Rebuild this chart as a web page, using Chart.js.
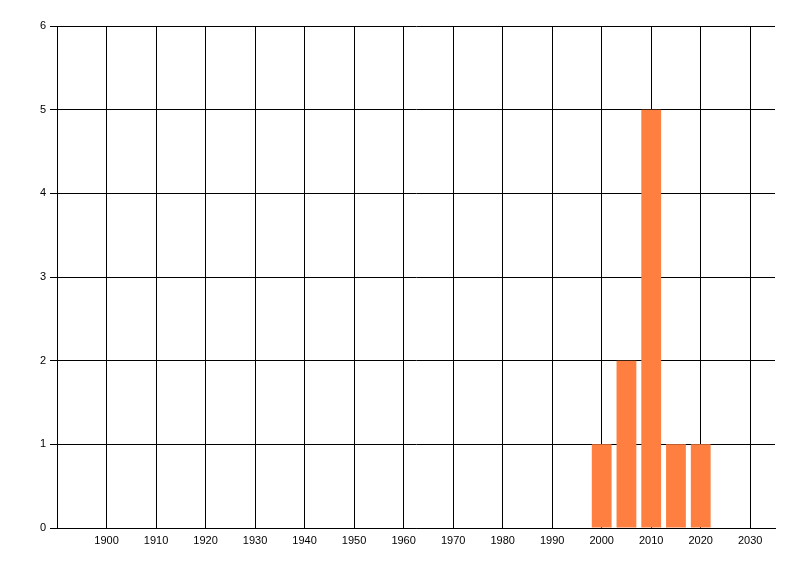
<!DOCTYPE html>
<html>
<head>
<meta charset="utf-8">
<script src="https://cdn.jsdelivr.net/npm/chart.js@4"></script>
<style>
  html, body { margin: 0; padding: 0; background: #fff; }
  #wrap { width: 800px; height: 576px; }
</style>
</head>
<body>
<div id="wrap"><canvas id="chart" width="800" height="576"></canvas></div>
<script>
// values
const years = [2000, 2005, 2010, 2015, 2020];
const counts = [1, 2, 5, 1, 1];
const xTickYears = [1900, 1910, 1920, 1930, 1940, 1950, 1960, 1970, 1980, 1990, 2000, 2010, 2020, 2030];
const yTicks = [0, 1, 2, 3, 4, 5, 6];

const font = { family: 'Liberation Sans', size: 11 };

const points = years.map((y, i) => ({ x: y, y: counts[i] }));

new Chart(document.getElementById('chart'), {
  type: 'bar',
  data: {
    datasets: [{
      data: points,
      backgroundColor: '#ff7f40',
      borderWidth: 0,
      barPercentage: 1,
      categoryPercentage: 0.8
    }]
  },
  options: {
    responsive: false,
    animation: false,
    layout: { padding: { top: 26, right: 25, left: 0, bottom: 0 } },
    plugins: { legend: { display: false }, tooltip: { enabled: false } },
    scales: {
      x: {
        type: 'linear',
        min: 1890,
        max: 2035,
        offset: false,
        afterBuildTicks: s => { s.ticks = xTickYears.map(v => ({ value: v })); },
        afterFit: s => { s.height = 48; },
        ticks: { color: '#000', font: font, padding: 6, maxRotation: 0, autoSkip: false,
                 callback: v => String(v) },
        grid: { color: '#000', lineWidth: 1, drawTicks: false, offset: false },
        border: { display: true, color: '#000', width: 1 }
      },
      y: {
        min: 0,
        max: 6,
        afterBuildTicks: s => { s.ticks = yTicks.map(v => ({ value: v })); },
        afterFit: s => { s.width = 57; },
        ticks: { color: '#000', font: font, padding: 4, callback: v => String(v) },
        grid: { color: '#000', lineWidth: 1, drawTicks: true, tickLength: 7 },
        border: { display: true, color: '#000', width: 1 }
      }
    }
  }
});
</script>
</body>
</html>
